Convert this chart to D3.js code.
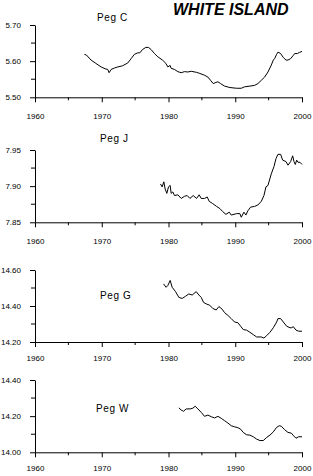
<!DOCTYPE html>
<html>
<head>
<meta charset="utf-8">
<script src="https://cdn.jsdelivr.net/npm/d3@7"></script>
<style>
  body { margin: 0; background: #fff; }
  svg { display: block; font-family: "Liberation Sans", Arial, sans-serif; }
</style>
</head>
<body>
<div id="container"></div>
<script>
// data: [year, value]
const pegC = [
    [1967.4, 5.619], [1967.7, 5.617], [1968.4, 5.603], [1969.1, 5.594], [1969.9, 5.584],
    [1970.5, 5.579], [1970.9, 5.577], [1971.1, 5.568], [1971.4, 5.577], [1971.9, 5.581],
    [1972.4, 5.584], [1973.1, 5.587], [1973.9, 5.595], [1974.4, 5.607], [1974.9, 5.619],
    [1975.4, 5.623], [1975.7, 5.623], [1976.1, 5.632], [1976.6, 5.638], [1977.0, 5.638],
    [1977.4, 5.632], [1977.9, 5.621], [1978.4, 5.612], [1979.1, 5.603], [1979.6, 5.594],
    [1979.9, 5.584], [1980.25, 5.588], [1980.4, 5.580], [1980.9, 5.577], [1981.4, 5.571],
    [1981.9, 5.568], [1982.4, 5.571], [1982.9, 5.570], [1983.4, 5.572], [1984.2, 5.569],
    [1984.7, 5.566], [1985.4, 5.561], [1985.9, 5.556], [1986.3, 5.547], [1986.7, 5.538],
    [1987.1, 5.541], [1987.4, 5.543], [1987.8, 5.538], [1988.4, 5.531], [1989.2, 5.527],
    [1990.2, 5.525], [1990.9, 5.525], [1991.4, 5.529], [1992.2, 5.531], [1992.9, 5.533],
    [1993.4, 5.538], [1993.9, 5.547], [1994.4, 5.556], [1994.9, 5.570], [1995.4, 5.589],
    [1995.7, 5.603], [1995.9, 5.607], [1996.2, 5.619], [1996.4, 5.625], [1996.8, 5.621],
    [1997.2, 5.610], [1997.6, 5.603], [1997.9, 5.603], [1998.3, 5.607], [1998.7, 5.616],
    [1998.9, 5.621], [1999.3, 5.621], [1999.6, 5.624], [2000.0, 5.627]
];
const pegJ = [
    [1978.8, 7.903], [1979.05, 7.899], [1979.3, 7.906], [1979.5, 7.896], [1979.75, 7.890],
    [1980.0, 7.899], [1980.25, 7.901], [1980.4, 7.890], [1980.65, 7.892], [1980.9, 7.887],
    [1981.4, 7.888], [1981.9, 7.883], [1982.4, 7.886], [1982.8, 7.887], [1983.2, 7.883],
    [1983.7, 7.887], [1984.2, 7.883], [1984.6, 7.888], [1984.9, 7.883], [1985.4, 7.883],
    [1985.8, 7.885], [1986.1, 7.879], [1986.6, 7.876], [1987.2, 7.872], [1987.7, 7.869],
    [1988.1, 7.865], [1988.6, 7.861], [1989.1, 7.864], [1989.4, 7.860], [1990.2, 7.862],
    [1990.7, 7.862], [1990.9, 7.857], [1991.3, 7.864], [1991.6, 7.860], [1991.9, 7.866],
    [1992.3, 7.871], [1992.9, 7.872], [1993.4, 7.874], [1993.9, 7.879], [1994.3, 7.887],
    [1994.6, 7.899], [1994.9, 7.901], [1995.4, 7.917], [1995.8, 7.927], [1996.1, 7.938],
    [1996.4, 7.944], [1996.8, 7.944], [1997.1, 7.936], [1997.6, 7.934], [1997.9, 7.929],
    [1998.3, 7.934], [1998.6, 7.942], [1998.8, 7.934], [1999.0, 7.930], [1999.2, 7.936],
    [1999.4, 7.933], [1999.7, 7.933], [2000.0, 7.930]
];
const pegG = [
    [1979.25, 14.523], [1979.65, 14.504], [1979.9, 14.514], [1980.25, 14.542], [1980.55, 14.504],
    [1981.05, 14.480], [1981.55, 14.448], [1982.05, 14.442], [1982.55, 14.454], [1983.05, 14.467],
    [1983.55, 14.461], [1984.15, 14.480], [1984.55, 14.461], [1984.9, 14.448], [1985.25, 14.420],
    [1985.75, 14.410], [1986.15, 14.405], [1986.65, 14.386], [1987.15, 14.378], [1987.55, 14.397],
    [1988.05, 14.382], [1988.4, 14.363], [1988.9, 14.348], [1989.4, 14.330], [1989.9, 14.311],
    [1990.4, 14.307], [1990.8, 14.288], [1991.2, 14.269], [1991.7, 14.266], [1992.2, 14.254],
    [1992.7, 14.241], [1993.2, 14.228], [1993.9, 14.228], [1994.3, 14.222], [1994.7, 14.235],
    [1995.2, 14.254], [1995.7, 14.279], [1996.2, 14.311], [1996.4, 14.330], [1996.8, 14.330],
    [1997.2, 14.311], [1997.7, 14.288], [1998.2, 14.279], [1998.4, 14.279], [1998.7, 14.285],
    [1999.1, 14.266], [1999.5, 14.260], [2000.0, 14.260]
];
const pegW = [
    [1981.55, 14.246], [1981.9, 14.234], [1982.25, 14.227], [1982.65, 14.240], [1983.25, 14.240],
    [1983.65, 14.244], [1984.0, 14.255], [1984.4, 14.240], [1984.9, 14.221], [1985.4, 14.199],
    [1985.9, 14.206], [1986.4, 14.197], [1986.9, 14.190], [1987.4, 14.199], [1987.9, 14.188],
    [1988.4, 14.175], [1988.9, 14.162], [1989.4, 14.147], [1989.9, 14.141], [1990.4, 14.136],
    [1990.8, 14.128], [1991.2, 14.110], [1991.7, 14.097], [1992.2, 14.095], [1992.7, 14.086],
    [1993.2, 14.073], [1993.7, 14.065], [1994.2, 14.065], [1994.7, 14.082], [1995.2, 14.095],
    [1995.7, 14.113], [1996.2, 14.138], [1996.6, 14.147], [1996.9, 14.144], [1997.4, 14.125],
    [1997.9, 14.110], [1998.4, 14.106], [1998.75, 14.091], [1999.1, 14.078], [1999.5, 14.086],
    [2000.0, 14.086]
];

const yearTicks = [1960, 1970, 1980, 1990, 2000];
const yearMinor = [1965, 1975, 1985, 1995];
const names = ["Peg C", "Peg J", "Peg G", "Peg W"];
const yDomains = [[5.50, 5.70], [7.85, 7.95], [14.20, 14.60], [14.00, 14.40]];
const yTicks = [[5.50, 5.60, 5.70], [7.85, 7.90, 7.95], [14.20, 14.40, 14.60], [14.00, 14.20, 14.40]];
const yMinor = [[5.55, 5.65], [7.875, 7.925], [14.30, 14.50], [14.10, 14.30]];
const series = [pegC, pegJ, pegG, pegW];

const W = 313, H = 476;
const X0 = 35, X1 = 302;
// panel layout: top (max value), bottom (axis), label position, x label offset
const panels = [
    { top: 25, bottom: 97.3, lx: 97, ly: 17, xlab: 19 },
    { top: 150, bottom: 222.3, lx: 100, ly: 138, xlab: 19 },
    { top: 270, bottom: 342, lx: 100, ly: 295, xlab: 16.5 },
    { top: 380, bottom: 452.3, lx: 96, ly: 408, xlab: 16.5 }
];

const svg = d3.select("#container").append("svg")
    .attr("width", W)
    .attr("height", H);

const x = d3.scaleLinear().domain([1960, 2000]).range([X0, X1]);

panels.forEach((p, i) => {
    const y = d3.scaleLinear().domain(yDomains[i]).range([p.bottom, p.top]);
    const g = svg.append("g");

    // x axis
    const xa = g.append("g")
        .attr("transform", `translate(0,${p.bottom})`)
        .call(d3.axisBottom(x).tickValues(yearTicks).tickFormat(d3.format("d"))
            .tickSizeInner(5).tickSizeOuter(0).tickPadding(8));
    xa.append("g").selectAll("line")
        .data(yearMinor)
        .join("line")
        .attr("x1", (d) => x(d)).attr("x2", (d) => x(d))
        .attr("y1", 0).attr("y2", 3)
        .attr("stroke", "#000");

    // y axis
    const ya = g.append("g")
        .attr("transform", `translate(${X0},0)`)
        .call(d3.axisLeft(y).tickValues(yTicks[i]).tickFormat(d3.format(".2f"))
            .tickSizeInner(5).tickSizeOuter(0).tickPadding(9));
    ya.append("g").selectAll("line")
        .data(yMinor[i])
        .join("line")
        .attr("x1", 0).attr("x2", -4)
        .attr("y1", (d) => y(d)).attr("y2", (d) => y(d))
        .attr("stroke", "#000");

    [xa, ya].forEach((a) => {
        a.select(".domain").attr("stroke", "#000");
        a.selectAll(".tick line").attr("stroke", "#000");
        a.selectAll("text")
            .attr("font-family", "'Liberation Sans', Arial, sans-serif")
            .attr("font-size", 8)
            .attr("fill", "#000");
    });
    xa.selectAll(".tick text").attr("dy", null).attr("y", p.xlab).attr("dominant-baseline", "central");

    // the series
    g.append("path")
        .datum(series[i])
        .attr("fill", "none")
        .attr("stroke", "#000")
        .attr("stroke-width", 1)
        .attr("d", d3.line().x((d) => x(d[0])).y((d) => y(d[1])));

    g.append("text")
        .attr("x", p.lx).attr("y", p.ly)
        .attr("dominant-baseline", "central")
        .attr("font-size", 10)
        .attr("letter-spacing", 0.6)
        .text(names[i]);
});

svg.append("text")
    .attr("x", 173).attr("y", 15)
    .attr("font-size", 16)
    .attr("font-weight", "bold")
    .attr("font-style", "italic")
    .text("WHITE ISLAND");
</script>
</body>
</html>
